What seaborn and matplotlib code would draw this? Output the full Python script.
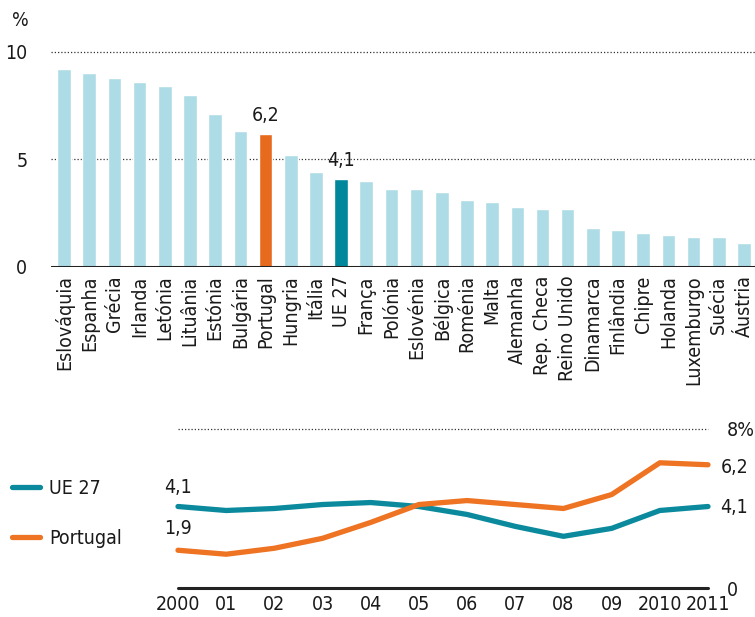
import matplotlib
matplotlib.use("Agg")
import matplotlib.pyplot as plt
import seaborn as sns
import pandas as pd
import numpy as np

# ---- data ----
countries = ["Eslováquia", "Espanha", "Grécia", "Irlanda", "Letónia", "Lituânia",
             "Estónia", "Bulgária", "Portugal", "Hungria", "Itália", "UE 27",
             "França", "Polónia", "Eslovénia", "Bélgica", "Roménia", "Malta",
             "Alemanha", "Rep. Checa", "Reino Unido", "Dinamarca", "Finlândia",
             "Chipre", "Holanda", "Luxemburgo", "Suécia", "Áustria"]
values = [9.2, 9.0, 8.8, 8.6, 8.4, 8.0, 7.1, 6.3, 6.2, 5.2, 4.4, 4.1,
          4.0, 3.6, 3.6, 3.5, 3.1, 3.0, 2.8, 2.7, 2.7, 1.8, 1.7,
          1.6, 1.5, 1.4, 1.4, 1.1]

years = [2000, 2001, 2002, 2003, 2004, 2005, 2006, 2007, 2008, 2009, 2010, 2011]
year_labels = ["2000", "01", "02", "03", "04", "05", "06", "07", "08", "09", "2010", "2011"]
ue27 = [4.1, 3.9, 4.0, 4.2, 4.3, 4.1, 3.7, 3.1, 2.6, 3.0, 3.9, 4.1]
portugal = [1.9, 1.7, 2.0, 2.5, 3.3, 4.2, 4.4, 4.2, 4.0, 4.7, 6.3, 6.2]

top_ticks = [0, 5, 10]
bottom_ticks = [0, 8]
bottom_tick_labels = ["0", "8%"]

# ---- style ----
C_LIGHT = "#addbe6"
C_PT = "#e86a1e"
C_UE = "#00879b"
C_PT_LINE = "#ee7322"
C_UE_LINE = "#0b8a9d"

sns.set_theme(style="white")
plt.rcParams["font.family"] = ["DejaVu Sans"]
plt.rcParams["font.stretch"] = "condensed"
FS = 14
FS_Y = 14
TXT = "#1a1a1a"

fig = plt.figure(figsize=(7.55, 6.17), dpi=100)

def fmt(v):
    return f"{v:.1f}".replace(".", ",")

# ---- top bar chart ----
ax = fig.add_axes([51 / 755, 1 - 267 / 617, 704 / 755, (267 - 51.7) / 617])
palette = {c: C_LIGHT for c in countries}
palette["Portugal"] = C_PT
palette["UE 27"] = C_UE
df_bar = pd.DataFrame({"country": countries, "value": values})
sns.barplot(data=df_bar, x="country", y="value", hue="country", palette=palette,
            legend=False, width=0.54, saturation=1, ax=ax, zorder=2)
ax.set_xlim(-0.52, 27.44)
ax.set_ylim(0, 10)
for s in ax.spines.values():
    s.set_visible(False)
for t in top_ticks[1:]:
    ax.axhline(t, color="#333333", lw=0.9, ls=(0, (1, 1.6)), zorder=1, clip_on=False)
ax.axhline(0, color="#222222", lw=2.2, zorder=3)
ax.set_yticks(top_ticks)
ax.set_yticklabels([str(t) for t in top_ticks], fontsize=FS, color=TXT)
ax.tick_params(axis="y", length=0, pad=17)
ax.tick_params(axis="x", length=0, pad=6)
ax.set_xticks(range(len(countries)))
ax.set_xticklabels(countries, rotation=90, fontsize=FS, color=TXT, va="top", ha="center")
ax.set_xlabel("")
ax.set_ylabel("")
for name in ["Portugal", "UE 27"]:
    i = countries.index(name)
    ax.annotate(fmt(values[i]), (i, values[i]), xytext=(0, 6), textcoords="offset points",
                ha="center", va="bottom", fontsize=FS, color=TXT)
fig.text(20 / 755, 1 - 21 / 617, "%", ha="center", va="center", fontsize=FS, color=TXT)

# ---- bottom line chart ----
ax2 = fig.add_axes([178 / 755, 1 - 588 / 617, 530 / 755, 159 / 617])
df_line = pd.DataFrame({
    "year": years * 2,
    "value": ue27 + portugal,
    "series": ["UE 27"] * len(years) + ["Portugal"] * len(years),
})
sns.lineplot(data=df_line, x="year", y="value", hue="series",
             palette={"UE 27": C_UE_LINE, "Portugal": C_PT_LINE},
             lw=3.8, ax=ax2, clip_on=False, zorder=3)
ax2.set_xlim(2000, 2011)
ax2.set_ylim(0, 8)
for s in ax2.spines.values():
    s.set_visible(False)
ax2.axhline(8, color="#333333", lw=0.9, ls=(0, (1, 1.6)), zorder=1, clip_on=False)
ax2.axhline(0, color="#222222", lw=2.2, zorder=2, clip_on=False)
ax2.set_xticks(years)
ax2.set_xticklabels(year_labels, fontsize=FS_Y, color=TXT)
ax2.tick_params(axis="x", length=0, pad=5)
ax2.set_yticks([])
ax2.set_xlabel("")
ax2.set_ylabel("")
# right-side axis labels
ax2r = ax2.twinx()
ax2r.set_ylim(0, 8)
for s in ax2r.spines.values():
    s.set_visible(False)
ax2r.set_yticks(bottom_ticks)
ax2r.set_yticklabels(bottom_tick_labels, fontsize=FS_Y, color=TXT)
ax2r.tick_params(axis="y", length=0, pad=13.5)
# value labels
ax2.annotate(fmt(ue27[0]), (years[0], ue27[0]), xytext=(0, 14), textcoords="offset points",
             ha="center", va="center", fontsize=FS, color=TXT)
ax2.annotate(fmt(portugal[0]), (years[0], portugal[0]), xytext=(0, 16), textcoords="offset points",
             ha="center", va="center", fontsize=FS, color=TXT)
ax2.annotate(fmt(ue27[-1]), (years[-1], ue27[-1]), xytext=(9, -1), textcoords="offset points",
             ha="left", va="center", fontsize=FS, color=TXT)
ax2.annotate(fmt(portugal[-1]), (years[-1], portugal[-1]), xytext=(9, -2), textcoords="offset points",
             ha="left", va="center", fontsize=FS, color=TXT)

sns.move_legend(ax2, loc="upper left", bbox_to_anchor=(12 / 755, 1 - 479 / 617),
                bbox_transform=fig.transFigure, frameon=False, title=None,
                fontsize=FS, handlelength=1.45, handletextpad=0.45,
                labelspacing=1.6, borderpad=0, borderaxespad=0)
for t in ax2.get_legend().get_texts():
    t.set_color(TXT)
for h in ax2.get_legend().get_lines():
    h.set_linewidth(3.8)
    h.set_solid_capstyle("round")

fig.savefig("out.png", dpi=100)
